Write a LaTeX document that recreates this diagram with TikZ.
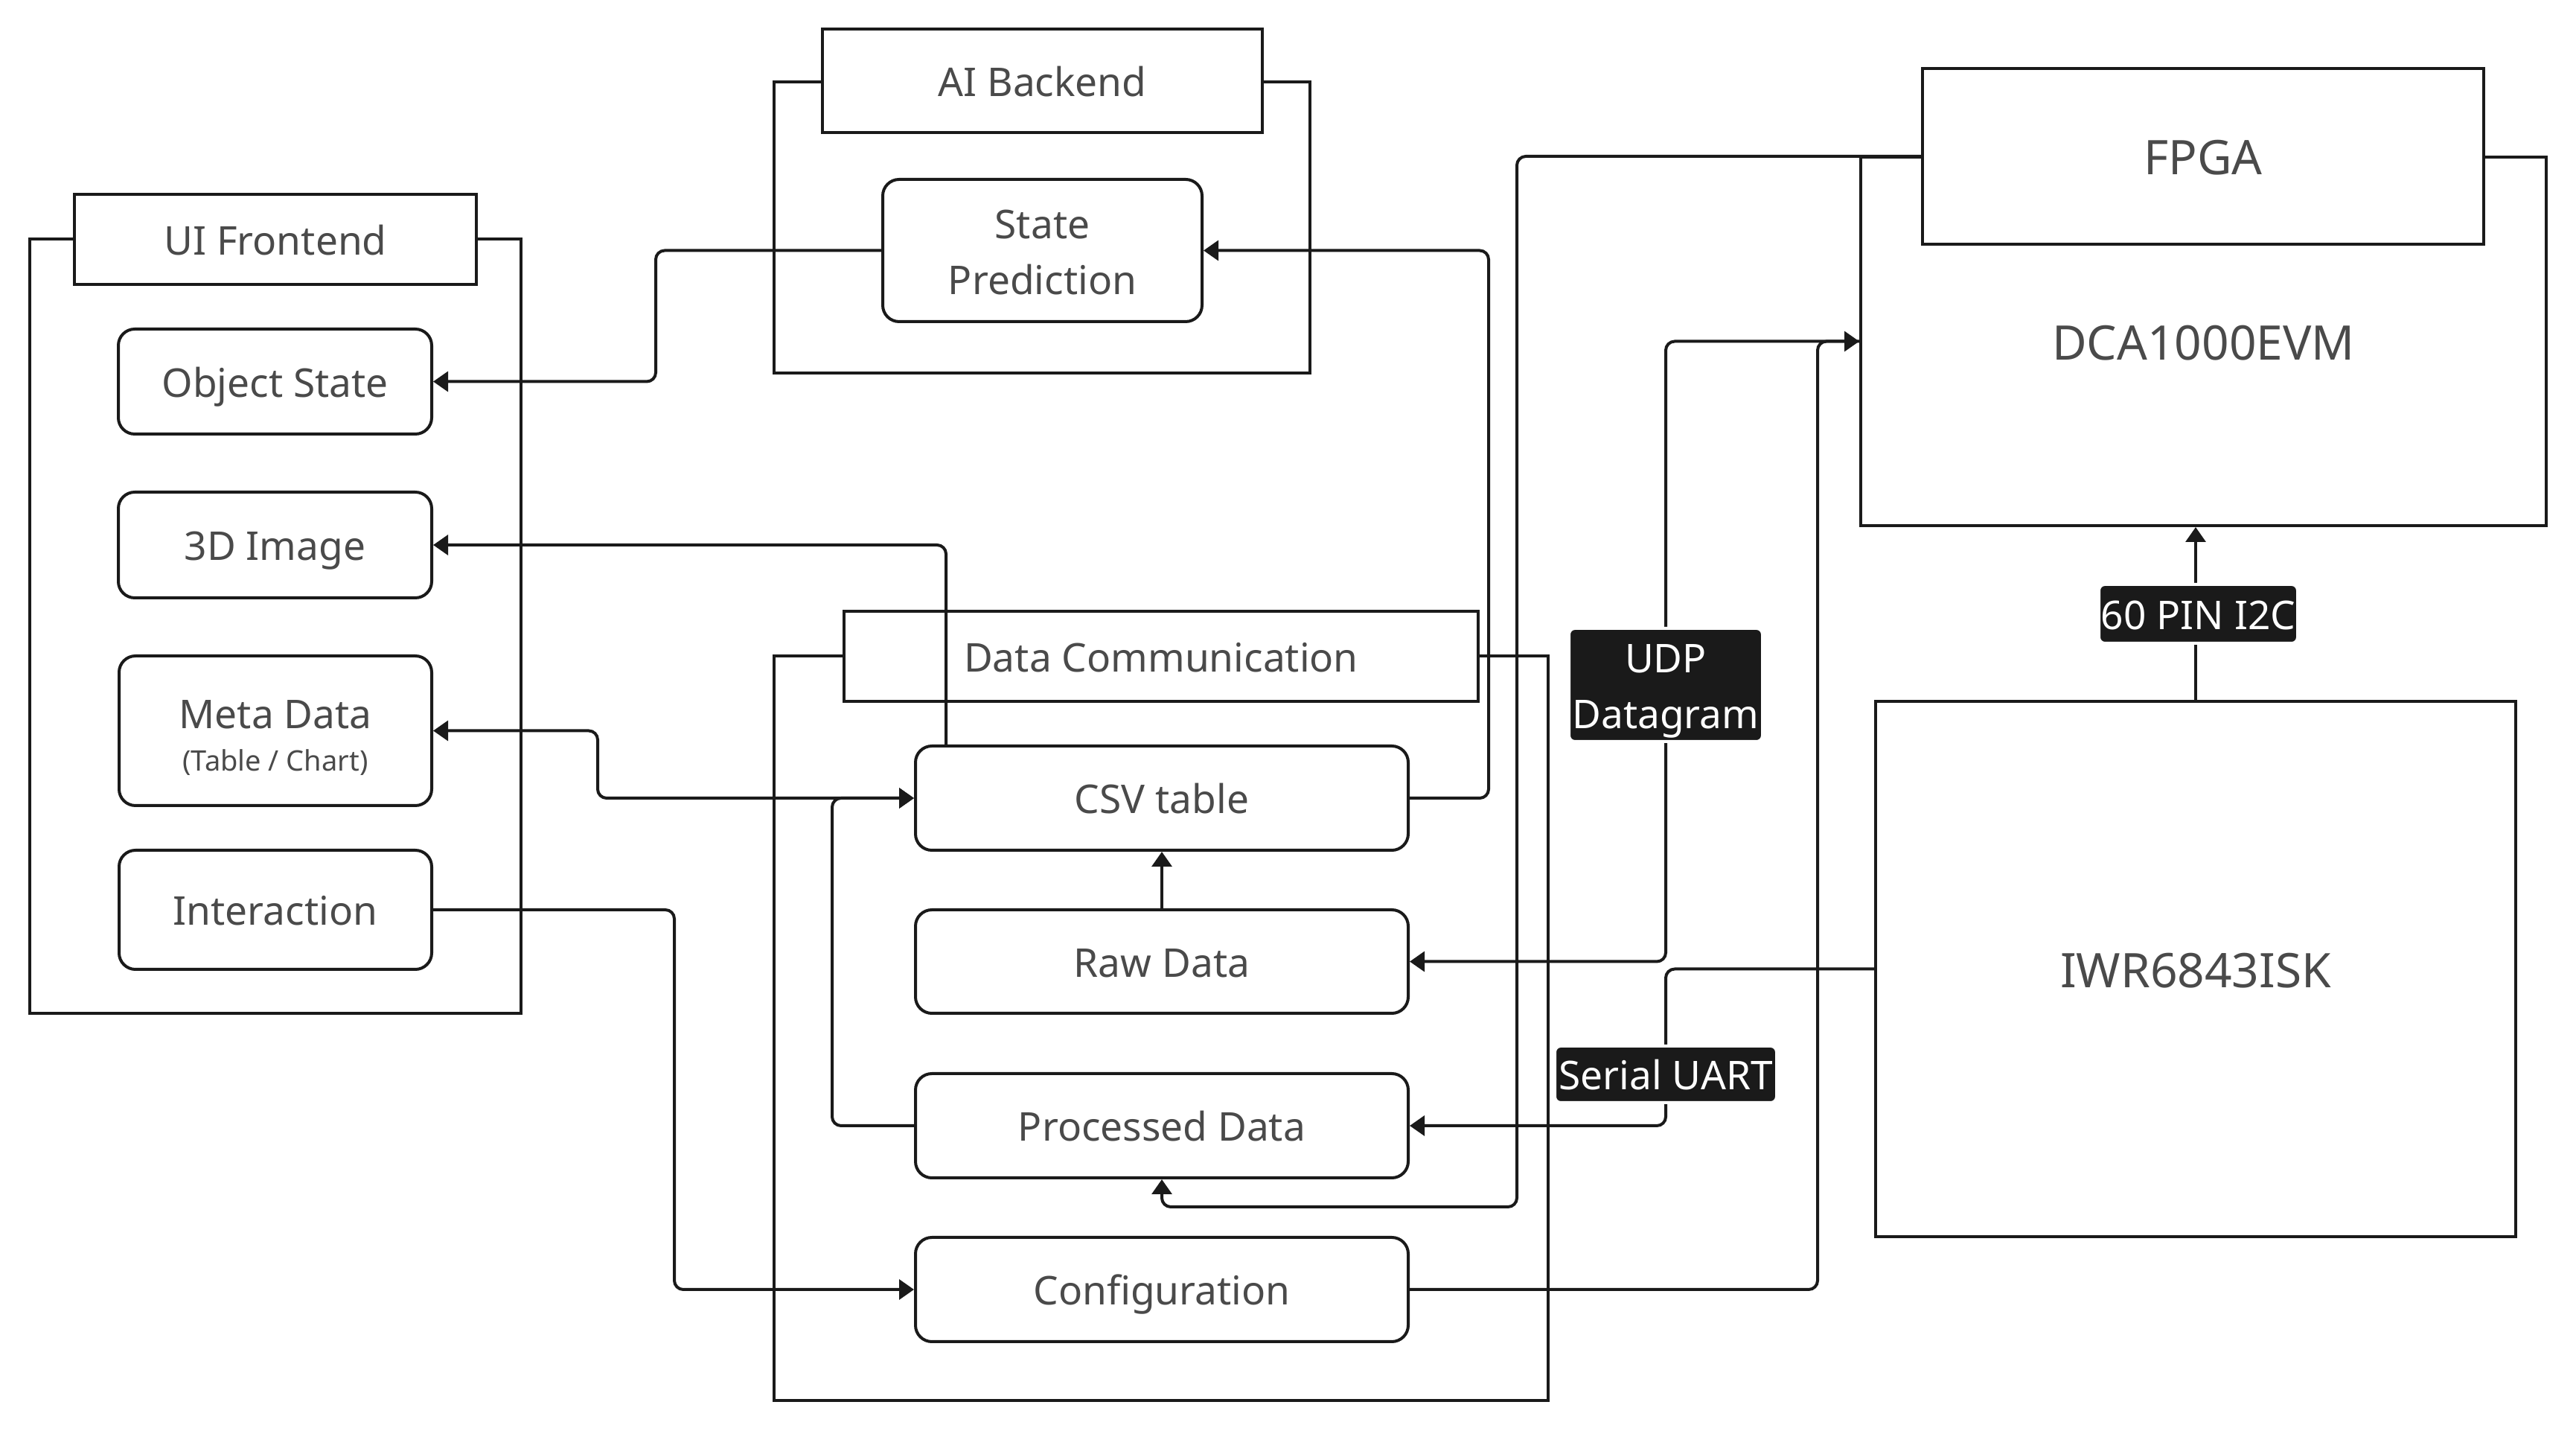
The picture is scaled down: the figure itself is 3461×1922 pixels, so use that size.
\documentclass[tikz,border=0pt]{standalone}
\usepackage{fontspec}
\setmainfont{Noto Sans}
\usetikzlibrary{arrows.meta}
\definecolor{ln}{HTML}{1A1A1A}
\definecolor{tx}{HTML}{4A4A4A}
\tikzset{
  mainfont/.style={font=\fontsize{13.3pt}{18.75pt}\selectfont},
  bigfont/.style={font=\fontsize{16pt}{20pt}\selectfont},
  sz/.style 2 args={minimum width=#1*0.25pt, minimum height=#2*0.25pt},
  oneline/.style={text height=12pt, text depth=1.68pt},
  bigline/.style={text height=14pt, text depth=1.6pt},
  container/.style={draw=ln, line width=0.9pt, inner sep=0pt},
  titlebox/.style={draw=ln, fill=white, line width=0.9pt, inner sep=0pt, text=tx, mainfont, oneline},
  rbox/.style={draw=ln, fill=white, rounded corners=5.5pt, line width=1pt, inner sep=0pt, text=tx, align=center, mainfont},
  boxtext/.style={text=tx, align=center, inner sep=0pt, mainfont},
  hwbox/.style={draw=ln, line width=1pt, inner sep=0pt, text=tx, bigfont, bigline},
  tag/.style={fill=ln, draw=white, line width=1pt, text=white, rounded corners=2pt, inner sep=0pt, align=center, mainfont},
  conn/.style={draw=ln, line width=1pt, rounded corners=3pt},
  arr/.style={conn, -{Triangle[length=5pt,width=6.7pt]}},
}
\begin{document}
\begin{tikzpicture}[x=0.25pt,y=-0.25pt]
\useasboundingbox (0,0) rectangle (3461,1922);
% containers
\node[container, sz={660}{1040}] (uiouter) at (370,841) {};
\node[container, sz={720}{391}] (aiouter) at (1400,305.5) {};
\node[container, sz={1040}{1000}] (dcouter) at (1560,1381) {};
% titles
\node[titlebox, sz={540}{121}] (uititle) at (370,321.5) {UI Frontend};
\node[titlebox, sz={591}{139}] (aititle) at (1400.5,108.5) {AI Backend};
\node[titlebox, sz={852}{121}] (dctitle) at (1560,881.5) {Data Communication};
% UI boxes
\node[rbox, oneline, sz={421}{141}] (objstate) at (369.5,512.5) {Object State};
\node[rbox, oneline, sz={421}{142}] (img3d) at (369.5,732) {3D Image};
\node[rbox, sz={420}{201}] (meta) at (370,981.5) {};
\node[boxtext] (metatext) at ([yshift=-2.3pt]meta.center) {Meta Data\\[-4.5pt]{\fontsize{9.5pt}{12pt}\selectfont (Table / Chart)}};
\node[rbox, oneline, sz={420}{160}] (inter) at (370,1222) {Interaction};
% AI
\node[rbox, sz={429}{191}] (statepred) at (1400.5,336.5) {};
\node[boxtext] (statetext) at ([yshift=-0.6pt]statepred.center) {State\\Prediction};
% Data comm
\node[rbox, oneline, sz={662}{140}] (csv) at (1561,1072) {CSV table};
\node[rbox, oneline, sz={662}{139}] (raw) at (1561,1291.5) {Raw Data};
\node[rbox, oneline, sz={662}{140}] (proc) at (1561,1512) {Processed Data};
\node[rbox, oneline, sz={662}{140}] (conf) at (1561,1732) {Configuration};
% hardware
\node[hwbox, sz={921}{495}] (dca) at (2960.5,458.5) {DCA1000EVM};
\node[hwbox, fill=white, sz={754}{236}] (fpga) at (2960,210) {FPGA};
\node[hwbox, sz={860}{719}] (iwr) at (2950,1301.5) {IWR6843ISK};
% connectors
\draw[arr] (statepred.west) -- ++(-303,0) |- (objstate.east);
\draw[arr] ([xshift=10.75pt]csv.north west) |- (img3d.east);
\draw[conn, {Triangle[length=5pt,width=6.7pt]}-{Triangle[length=5pt,width=6.7pt]}] (meta.east) -- ++(221,0) |- (csv.west);
\draw[arr] (inter.east) -- ++(324,0) |- (conf.west);
\draw[arr] (raw.north) -- (csv.south);
\draw[arr] (proc.west) -- ++(-110,0) |- (csv.west);
\draw[arr] (csv.east) -- ++(106,0) |- (statepred.east);
\draw[arr] (fpga.west) -- ++(-543,0) -- ++(0,1411) -| (proc.south);
\draw[arr] (dca.west) -- ++(-260,0) |- (raw.east);
\draw[arr] (conf.east) -- ++(548,0) |- (dca.west);
\draw[arr] (iwr.west) -- ++(-280,0) |- (proc.east);
\draw[arr] (iwr.north) -- (iwr.north |- dca.south);
% labels
\node[tag, sz={260}{152}] (udp) at (2238,920) {};
\node[boxtext, text=white] (udptext) at ([yshift=-2pt]udp.center) {UDP\\Datagram};
\node[tag, oneline, sz={298}{76}] (uart) at (2238,1443) {Serial UART};
\node[tag, oneline, sz={267}{79}] (i2c) at (2953.5,824.5) {60 PIN I2C};
\end{tikzpicture}
\end{document}
